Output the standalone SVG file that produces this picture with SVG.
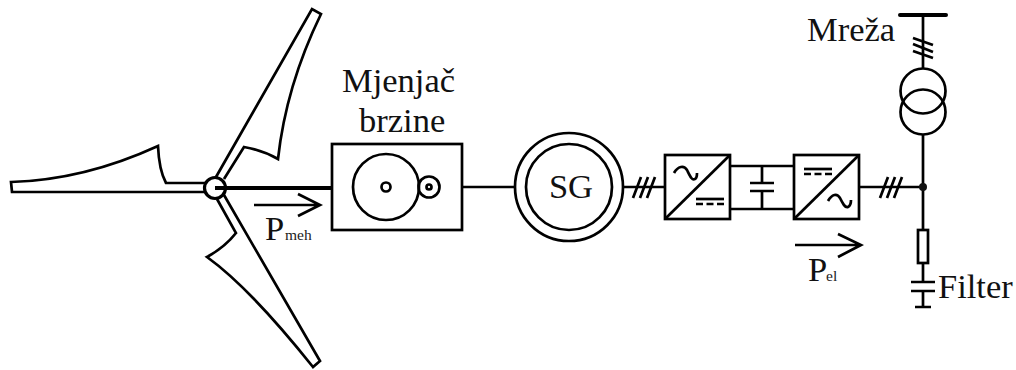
<svg xmlns="http://www.w3.org/2000/svg" width="1016" height="370" viewBox="0 0 1016 370">
<style>
.s{fill:none;stroke:#000;stroke-width:2.7}
.w{fill:#fff;stroke:#000;stroke-width:3.2}
.t{font-family:"Liberation Serif","Times New Roman",serif;font-size:34.5px;fill:#111}
.u{font-family:"Liberation Serif","Times New Roman",serif;font-size:15.5px;fill:#222}
</style>
<rect width="1016" height="370" fill="#fff"/>
<g id="connectors" class="s">
<path d="M462 187H515M623 187H665M859 187H923"/>
<path d="M730 166H794M730 209H794M762 166V183M762 191V209"/>
<path d="M750 183H774M750 191H774"/>
<path d="M923 15V68M923 134V230M923 263V282M923 291V307"/>
<path d="M633 198L641 177M640 198L648 177M647 198L655 177"/>
<path d="M880 198L888 177M887 198L895 177M894 198L902 177"/>
<path d="M913 38L933 45M913 44L933 52M913 51L933 58"/>
<path d="M911 282H935M911 291H935M915 307H931"/>
</g>
<g id="blades" class="s">
<path d="M205 183H166Q159 170 158 146Q84 180 11 182L12 192H205"/>
<path d="M216 177L312 9L321 14Q286 86 278 159Q262 150 244 147L224 179"/>
<path d="M224 195L320 361L313 367Q250 288 207 257Q225 247 236 233L217 199"/>
</g>
<g id="hub"><circle class="w" cx="215" cy="188" r="10.5"/><path d="M215 188H332" stroke="#000" stroke-width="3.8"/></g>
<g id="arrow-pmeh">
<path class="s" d="M254 205H320M298 194L320 205L298 216"/>
<text class="t" x="265" y="240">P</text>
<text class="u" x="285" y="240">meh</text>
</g>
<g id="gearbox">
<rect class="s" x="332" y="144" width="130" height="86"/>
<circle class="s" cx="386" cy="187" r="33"/>
<circle class="s" cx="429" cy="187" r="10.5"/>
<circle class="s" cx="386" cy="187" r="4.5"/>
<circle class="s" cx="429" cy="187" r="2.5"/>
<text class="t" x="342" y="92">Mjenjač</text>
<text class="t" x="359" y="132">brzine</text>
</g>
<g id="generator">
<circle class="s" cx="569" cy="187" r="54"/>
<circle class="s" cx="569" cy="187" r="43"/>
<text class="t" x="571" y="198" text-anchor="middle">SG</text>
</g>
<g id="rectifier">
<rect class="s" x="665" y="155" width="65" height="64"/>
<path class="s" d="M665 219L730 155"/>
<path class="s" d="M674 173C678 166 684 165 687 170C690 176 692 181 695 179C697 178 697 175 697 173"/>
<path class="s" d="M696 199H724"/>
<path class="s" stroke-dasharray="7 3.5" d="M696 204H724"/>
</g>
<g id="inverter">
<rect class="s" x="794" y="155" width="65" height="64"/>
<path class="s" d="M794 219L859 155"/>
<path class="s" d="M804 169H832"/>
<path class="s" stroke-dasharray="7 3.5" d="M804 174H832"/>
<path class="s" d="M828 201C832 194 837 193 840 198C843 204 845 208 848 207C850 206 851 203 851 200"/>
</g>
<g id="arrow-pel">
<path class="s" d="M795 245H861M838 234L861 245L838 257"/>
<text class="t" x="808" y="281">P</text>
<text class="u" x="826" y="281">el</text>
</g>
<g id="grid">
<path class="s" d="M900 15H946" style="stroke-width:4;stroke-linecap:round"/>
<circle class="s" cx="923" cy="91" r="22.5"/>
<circle class="s" cx="923" cy="112" r="22.5"/>
<text class="t" x="807" y="41">Mreža</text>
</g>
<g id="junction"><circle cx="923" cy="187" r="4" fill="#111"/></g>
<g id="filter">
<rect class="s" x="918" y="230" width="10" height="33"/>
<text class="t" x="938" y="298">Filter</text>
</g>
</svg>
